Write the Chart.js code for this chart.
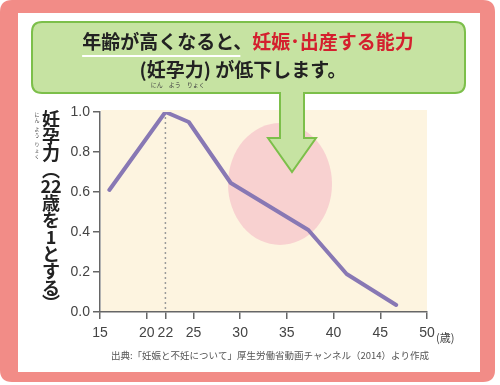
<!DOCTYPE html>
<html>
<head>
<meta charset="utf-8">
<script src="https://cdn.jsdelivr.net/npm/chart.js@4/dist/chart.umd.min.js"></script>
<style>
  html, body { margin: 0; padding: 0; background: #fff; }
  #wrap { width: 500px; height: 385px; }
</style>
</head>
<body>
<div id="wrap"><canvas id="fertilityChart" width="500" height="385"></canvas></div>
<script>
// data
const ages = [16, 22, 24.5, 29, 37.3, 41.4, 46.7];
const fertility = [0.61, 1.0, 0.95, 0.645, 0.41, 0.19, 0.035];
const xTicks = [15, 20, 22, 25, 30, 35, 40, 45, 50];
const yTicks = [0, 0.2, 0.4, 0.6, 0.8, 1.0];
const peakAge = 22;

const JP = '"Noto Sans CJK JP", "Noto Sans", sans-serif';

function roundRect(c, x, y, w, h, r) {
  c.beginPath();
  c.moveTo(x + r, y);
  c.lineTo(x + w - r, y);
  c.quadraticCurveTo(x + w, y, x + w, y + r);
  c.lineTo(x + w, y + h - r);
  c.quadraticCurveTo(x + w, y + h, x + w - r, y + h);
  c.lineTo(x + r, y + h);
  c.quadraticCurveTo(x, y + h, x, y + h - r);
  c.lineTo(x, y + r);
  c.quadraticCurveTo(x, y, x + r, y);
  c.closePath();
}

const decor = {
  id: 'decor',
  beforeDraw(chart) {
    const c = chart.ctx;
    const a = chart.chartArea;
    c.save();
    // pink frame
    c.fillStyle = '#f28c87';
    roundRect(c, 0, 0, 495, 382, 12);
    c.fill();
    c.fillStyle = '#ffffff';
    c.fillRect(18, 13, 462, 359);

    // plot background
    c.fillStyle = '#fdf4e0';
    c.fillRect(a.left + 1, a.top - 2, a.right - a.left - 1, a.bottom - a.top + 2);

    // pink ellipse
    c.fillStyle = 'rgba(246, 190, 200, 0.65)';
    c.beginPath();
    c.ellipse(280, 184, 52, 61, 0, 0, Math.PI * 2);
    c.fill();

    // arrow
    c.fillStyle = '#c6e3a2';
    c.strokeStyle = '#7cbf4a';
    c.lineWidth = 2;
    c.beginPath();
    c.moveTo(280, 90);
    c.lineTo(280, 138);
    c.lineTo(268, 138);
    c.lineTo(292, 172);
    c.lineTo(316, 138);
    c.lineTo(304, 138);
    c.lineTo(304, 90);
    c.closePath();
    c.fill();
    c.stroke();

    // callout box
    roundRect(c, 32, 22, 433, 71, 10);
    c.fill();
    c.stroke();
    c.fillStyle = '#c6e3a2';
    c.fillRect(281, 88, 22, 8);

    // callout text
    c.textBaseline = 'middle';
    c.font = 'bold 19px ' + JP;
    const part1 = '年齢が高くなると、';
    const part2 = '妊娠･出産する能力';
    const w1 = c.measureText(part1).width;
    const w2 = c.measureText(part2).width;
    const x0 = 248 - (w1 + w2) / 2;
    c.textAlign = 'left';
    c.fillStyle = '#222222';
    c.fillText(part1, x0, 42);
    c.fillStyle = '#d4202e';
    c.fillText(part2, x0 + w1, 42);
    c.strokeStyle = '#ffffff';
    c.lineWidth = 2;
    c.beginPath();
    c.moveTo(x0, 56);
    c.lineTo(x0 + w1 - 12, 56);
    c.stroke();

    c.fillStyle = '#222222';
    c.textAlign = 'center';
    const line2 = '(妊孕力) が低下します。';
    c.fillText(line2, 243, 70);
    const lw = c.measureText(line2).width;
    const kStart = 243 - lw / 2 + c.measureText('(').width;
    c.font = '6px ' + JP;
    c.fillStyle = '#444';
    c.textAlign = 'left';
    c.fillText('にん　よう　りょく', kStart + 4, 85);

    // vertical y-axis title
    c.fillStyle = '#222222';
    c.font = 'bold 18px ' + JP;
    c.textAlign = 'center';
    const cx = 51;
    const items = [
      ['妊', 119], ['孕', 136], ['力', 153], ['︵', 170],
      ['22', 186], ['歳', 203], ['を', 220], ['1', 237],
      ['と', 254], ['す', 271], ['る', 288], ['︶', 303]
    ];
    items.forEach(function (it) {
      c.fillText(it[0], cx, it[1]);
    });
    c.font = '5px ' + JP;
    c.fillStyle = '#444';
    ['に', 'ん', 'よ', 'う', 'り', 'ょ', 'く'].forEach(function (ch, i) {
      c.fillText(ch, 37, 114 + i * 6 + (i > 1 ? 3 : 0) + (i > 3 ? 3 : 0));
    });

    // source note
    c.font = '9.5px ' + JP;
    c.fillStyle = '#555';
    c.fillText('出典:「妊娠と不妊について」厚生労働省動画チャンネル（2014）より作成', 270, 355);
    c.restore();
  },
  beforeDatasetsDraw(chart) {
    const c = chart.ctx;
    const x = chart.scales.x.getPixelForValue(peakAge);
    const y = chart.scales.y;
    c.save();
    c.strokeStyle = '#9a9a9a';
    c.lineWidth = 1.5;
    c.setLineDash([2, 3]);
    c.beginPath();
    c.moveTo(x, y.getPixelForValue(1.0));
    c.lineTo(x, y.getPixelForValue(0));
    c.stroke();
    c.restore();
  },
  afterDraw(chart) {
    const c = chart.ctx;
    const x = chart.scales.x.getPixelForValue(50);
    c.save();
    c.font = '11px ' + JP;
    c.fillStyle = '#444';
    c.textAlign = 'left';
    c.textBaseline = 'middle';
    c.fillText('(歳)', x + 9, 338);
    c.restore();
  }
};

const ctx = document.getElementById('fertilityChart').getContext('2d');

const fertilityChart = new Chart(ctx, {
  type: 'line',
  data: {
    datasets: [{
      data: ages.map(function (a, i) { return { x: a, y: fertility[i] }; }),
      borderColor: '#8878b4',
      borderWidth: 4,
      pointRadius: 0,
      tension: 0,
      borderJoinStyle: 'round',
      borderCapStyle: 'round'
    }]
  },
  options: {
    responsive: false,
    animation: false,
    layout: { padding: { left: 0, right: 73, top: 112, bottom: 0 } },
    plugins: {
      legend: { display: false },
      tooltip: { enabled: false }
    },
    scales: {
      x: {
        type: 'linear',
        min: 15,
        max: 50,
        afterBuildTicks: function (scale) {
          scale.ticks = xTicks.map(function (v) { return { value: v }; });
        },
        afterFit: function (scale) { scale.height = 73; },
        grid: { display: true, drawOnChartArea: false, drawTicks: true, tickLength: 7, color: '#666', lineWidth: 1.5 },
        border: { display: true, color: '#666', width: 1.5 },
        ticks: {
          autoSkip: false,
          maxRotation: 0,
          padding: 6,
          color: '#444',
          font: { family: 'Liberation Sans, Arial, sans-serif', size: 14 },
          callback: function (v) { return String(v); }
        }
      },
      y: {
        min: 0,
        max: 1,
        afterBuildTicks: function (scale) {
          scale.ticks = yTicks.map(function (v) { return { value: v }; });
        },
        afterFit: function (scale) { scale.width = 100; },
        grid: { display: true, drawOnChartArea: false, drawTicks: true, tickLength: 7, color: '#666', lineWidth: 1.5 },
        border: { display: true, color: '#666', width: 1.5 },
        ticks: {
          padding: 3,
          color: '#444',
          font: { family: 'Liberation Sans, Arial, sans-serif', size: 14 },
          callback: function (v) { return v.toFixed(1); }
        }
      }
    }
  },
  plugins: [decor]
});
</script>
</body>
</html>
